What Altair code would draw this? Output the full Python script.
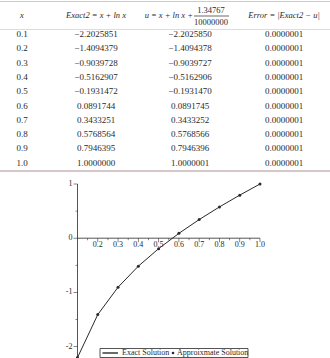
import altair as alt
import pandas as pd

# ---------------- data ----------------
x_vals = [0.1, 0.2, 0.3, 0.4, 0.5, 0.6, 0.7, 0.8, 0.9, 1.0]
exact_vals = [-2.2025851, -1.4094379, -0.9039728, -0.5162907, -0.1931472,
              0.0891744, 0.3433251, 0.5768564, 0.7946395, 1.0000000]
u_vals = [-2.2025850, -1.4094378, -0.9039727, -0.5162906, -0.1931470,
          0.0891745, 0.3433252, 0.5768566, 0.7946396, 1.0000001]
error_vals = [0.0000001, 0.0000001, 0.0000001, 0.0000001, 0.0000001,
              0.0000001, 0.0000001, 0.0000001, 0.0000001, 0.0000001]

header_x = "x"
header_exact = "Exact2 = x + ln x"
header_u = "u = x + ln x +"
header_u_num = "1.34767"
header_u_den = "10000000"
header_err = "Error = |Exact2 − u|"

x_ticks = [0.2, 0.3, 0.4, 0.5, 0.6, 0.7, 0.8, 0.9, 1.0]
x_tick_labels = ["0.2", "0.3", "0.4", "0.5", "0.6", "0.7", "0.8", "0.9", "1.0"]
x_minor = [0.15, 0.25, 0.35, 0.45, 0.55, 0.65, 0.75, 0.85, 0.95]
y_ticks = [1, 0, -1, -2]
y_tick_labels = ["1", "0", "-1", "-2"]
y_minor = [0.5, -0.5, -1.5]
legend_labels = ["Exact Solution", "Approixmate Solution"]

# ---------------- style / layout ----------------
FONT = "Liberation Serif"
INK = "#2a2a2a"
LINE_TBL = "#d6c8c8"
W, H = 330, 358


def fmt7(v):
    return f"{v:.7f}".replace("-", "\u2212")


# ---------------- table ----------------
df_t = pd.DataFrame({
    "x": x_vals,
    "xs": [f"{v:.1f}" for v in x_vals],
    "ex": [fmt7(v) for v in exact_vals],
    "u": [fmt7(v) for v in u_vals],
    "err": [fmt7(v) for v in error_vals],
})
# row 0.1 at y=34, rows 14.3 px apart
ty = alt.Scale(domain=[0.1 - 34 / 143.0, 0.1 + (H - 34) / 143.0],
               reverse=True, nice=False, zero=False)

table_layers = []
for field, cx in [("xs", 22), ("ex", 96), ("u", 190), ("err", 284)]:
    table_layers.append(
        alt.Chart(df_t).mark_text(font=FONT, fontSize=9, color=INK,
                                  align="center", baseline="middle").encode(
            x=alt.value(cx),
            y=alt.Y("x:Q", scale=ty, axis=None),
            text=alt.Text(f"{field}:N"),
        )
    )


def text_at(txt, x, y, size=8.5, style="italic", align="center"):
    return alt.Chart(pd.DataFrame({"t": [txt]})).mark_text(
        font=FONT, fontSize=size, fontStyle=style, color=INK,
        align=align, baseline="middle").encode(
        x=alt.value(x), y=alt.value(y), text="t:N")


def hrule(y, color, w, x0=0, x1=W):
    return alt.Chart(pd.DataFrame({"a": [0]})).mark_rule(
        color=color, strokeWidth=w).encode(
        x=alt.value(x0), x2=alt.value(x1), y=alt.value(y))


table_layers += [
    text_at(header_x, 22, 15),
    text_at(header_exact, 96, 15),
    text_at(header_u, 193, 15, align="right"),
    text_at(header_u_num, 211, 9.5, style="normal"),
    text_at(header_u_den, 211, 22, style="normal"),
    hrule(16, INK, 0.7, 194, 229),
    text_at(header_err, 284, 15),
    hrule(1.5, LINE_TBL, 1.2),
    hrule(29.5, "#dddddd", 1),
    hrule(171, LINE_TBL, 2),
]
table = alt.layer(*table_layers)

# ---------------- plot ----------------
xs = alt.Scale(domain=[-0.2822, 1.3452], nice=False, zero=False)
ys = alt.Scale(domain=[-2.2103, 4.3948], nice=False, zero=False)

df_p = pd.DataFrame({"x": x_vals, "exact": exact_vals, "u": u_vals})

line = alt.Chart(df_p).mark_line(color=INK, strokeWidth=1).encode(
    x=alt.X("x:Q", scale=xs, axis=None),
    y=alt.Y("exact:Q", scale=ys, axis=None),
)
pts = alt.Chart(df_p).mark_circle(size=9, color=INK, opacity=1).encode(
    x=alt.X("x:Q", scale=xs, axis=None),
    y=alt.Y("u:Q", scale=ys, axis=None),
)

x_axis = alt.Chart(pd.DataFrame({"x": [x_vals[0]], "x2": [x_vals[-1]], "y": [0]})).mark_rule(
    color=INK, strokeWidth=0.8).encode(
    x=alt.X("x:Q", scale=xs, axis=None), x2="x2:Q",
    y=alt.Y("y:Q", scale=ys, axis=None))
y_axis = alt.Chart(pd.DataFrame({"x": [x_vals[0]], "y": [y_ticks[0]], "y2": [-2.2103]})).mark_rule(
    color=INK, strokeWidth=0.8).encode(
    x=alt.X("x:Q", scale=xs, axis=None),
    y=alt.Y("y:Q", scale=ys, axis=None), y2="y2:Q")

df_xt = pd.DataFrame({"x": x_ticks, "y": [0] * len(x_ticks), "label": x_tick_labels})
df_xm = pd.DataFrame({"x": x_minor, "y": [0] * len(x_minor)})
df_yt = pd.DataFrame({"x": [x_vals[0]] * len(y_ticks), "y": y_ticks, "label": y_tick_labels})
df_ym = pd.DataFrame({"x": [x_vals[0]] * len(y_minor), "y": y_minor})

enc = dict(x=alt.X("x:Q", scale=xs, axis=None), y=alt.Y("y:Q", scale=ys, axis=None))

x_tk = alt.Chart(df_xt).mark_tick(orient="vertical", size=4, thickness=0.8,
                                  color=INK, yOffset=2).encode(**enc)
x_mn = alt.Chart(df_xm).mark_tick(orient="vertical", size=2, thickness=0.8,
                                  color=INK, yOffset=1).encode(**enc)
x_lb = alt.Chart(df_xt).mark_text(font=FONT, fontSize=8, color=INK, align="center",
                                  baseline="middle", dy=7).encode(text="label:N", **enc)
y_tk = alt.Chart(df_yt).mark_tick(orient="horizontal", size=4, thickness=0.8,
                                  color=INK, xOffset=-2).encode(**enc)
y_mn = alt.Chart(df_ym).mark_tick(orient="horizontal", size=2, thickness=0.8,
                                  color=INK, xOffset=-1).encode(**enc)
y_lb = alt.Chart(df_yt).mark_text(font=FONT, fontSize=8, color=INK, align="right",
                                  baseline="middle", dx=-5).encode(text="label:N", **enc)

# legend box
leg_box = alt.Chart(pd.DataFrame({"a": [0]})).mark_rect(
    fill="white", stroke=INK, strokeWidth=0.8).encode(
    x=alt.value(100), x2=alt.value(248), y=alt.value(348.5), y2=alt.value(357.5))
leg_line = hrule(353, INK, 1.4, 102.5, 118)
leg_dot = alt.Chart(pd.DataFrame({"a": [0]})).mark_circle(size=7, color=INK, opacity=1).encode(
    x=alt.value(173), y=alt.value(353))
leg_t1 = text_at(legend_labels[0], 122, 353, size=8, style="normal", align="left")
leg_t2 = text_at(legend_labels[1], 177, 353, size=8, style="normal", align="left")

plot = alt.layer(line, pts, x_axis, y_axis, x_mn, x_tk, y_mn, y_tk, x_lb, y_lb,
                 leg_box, leg_line, leg_dot, leg_t1, leg_t2)

chart = alt.layer(table, plot).resolve_scale(
    x="independent", y="independent"
).properties(
    width=W, height=H, padding=0,
    autosize=alt.AutoSizeParams(type="none"),
    background="white",
).configure_view(stroke=None)

chart.save("out.html", embed_options={"renderer": "svg", "actions": False})
